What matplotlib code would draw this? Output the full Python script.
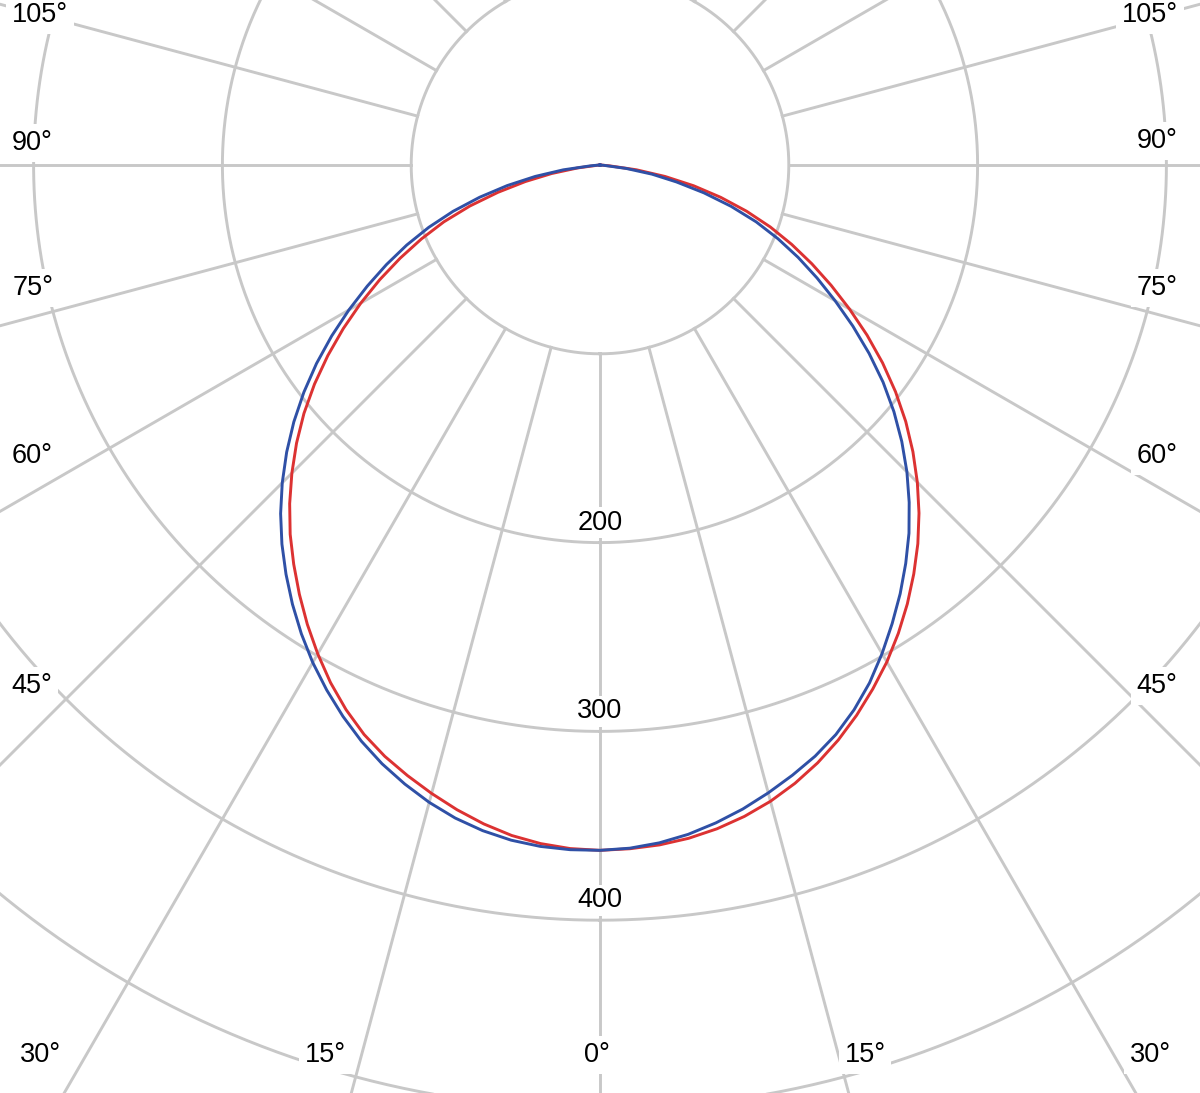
import numpy as np
import matplotlib
matplotlib.use("Agg")
import matplotlib.pyplot as plt

plt.rcParams['font.family'] = ['Liberation Sans', 'DejaVu Sans']

# angulos gamma (grados desde la vertical hacia abajo), cada 2.5
gamma = [0, 2.5, 5, 7.5, 10, 12.5, 15, 17.5, 20, 22.5, 25, 27.5, 30, 32.5, 35, 37.5,
         40, 42.5, 45, 47.5, 50, 52.5, 55, 57.5, 60, 62.5, 65, 67.5, 70, 72.5, 75,
         77.5, 80, 82.5, 85, 87.5, 90]

# intensidades en cd, leidas del grafico
# rojo: C0 (derecha) / C180 (izquierda)
red_c0 = [363, 362.5, 361.5, 359.7, 357, 353.4, 348.9, 343.4, 337, 329.7, 321.6, 312.9,
          303.9, 294.1, 283.8, 273, 261.9, 250.1, 237.7, 224.8, 211.4, 197.3, 182.7, 167.7,
          152.6, 138, 123.8, 109.9, 96, 81.4, 66.2, 50.8, 35, 19.5, 5, 0.5, 0]
red_c180 = [363, 362.4, 360.8, 358.2, 354.4, 349.8, 344.6, 339.1, 333.3, 326.5, 318.3, 309.1,
            299, 288.5, 277.6, 266.5, 255.3, 243.3, 230.8, 218, 204.7, 190.6, 176, 161.2,
            146.3, 131.5, 116.8, 102.4, 88, 72.3, 56, 40.5, 26, 12, 1, 0, 0]
# azul: C90 (derecha) / C270 (izquierda)
blue_c90 = [363, 362.2, 360.4, 357.6, 353.8, 349.4, 344.3, 338.9, 333.2, 326.5, 318.4, 309.2,
            298.8, 288, 277.2, 266, 254.6, 242.4, 229.9, 216.8, 203.2, 189, 174, 158.8,
            143.8, 129.6, 115.8, 102, 88, 72.8, 57, 41.5, 28, 14, 2, 0, 0]
blue_c270 = [363, 363, 362.3, 360.7, 358, 354.3, 349.5, 343.8, 337.5, 330.3, 322.2, 313.5,
             304.3, 294.4, 284, 273.2, 262.1, 250.4, 238, 225.1, 211.7, 197.7, 183.3, 168.5,
             153.6, 139, 124.8, 110.8, 96.5, 81.6, 66, 50.3, 34.8, 19.6, 5, 0.5, 0]

ring_values = [100, 200, 300, 400, 500, 600]
ring_labels = ["200", "300", "400"]
spoke_step = 15

# etiquetas de angulo: texto y posicion en pixeles (x, y desde arriba)
angle_labels = ["105°", "90°", "75°", "60°", "45°", "30°", "15°", "0°",
                "15°", "30°", "45°", "60°", "75°", "90°", "105°"]
label_px = [(40, 12), (32, 140), (33, 285), (32, 453), (32, 683), (40, 1052),
            (325, 1052), (597, 1052), (865, 1052), (1150, 1052), (1157, 683),
            (1157, 453), (1157, 285), (1157, 138), (1150, 12)]

W, H = 1200, 1093
cx, cy = 600, 165          # centro en pixeles
px_per_cd = 1.888
rmax = 600

fig = plt.figure(figsize=(W / 100, H / 100), dpi=100)
R = rmax * px_per_cd
ax = fig.add_axes([(cx - R) / W, (H - cy - R) / H, 2 * R / W, 2 * R / H], projection='polar')
ax.set_theta_zero_location('S')
ax.set_theta_direction(1)
ax.set_ylim(0, rmax)
ax.grid(False)
ax.set_xticks([])
ax.set_yticks([])
ax.spines['polar'].set_visible(False)
ax.patch.set_visible(False)

grid_col = "#c8c8c8"
t = np.linspace(0, 2 * np.pi, 721)
for r in ring_values:
    ax.plot(t, np.full_like(t, r), color=grid_col, lw=2.1, zorder=1)
for a in range(0, 360, spoke_step):
    ax.plot([np.radians(a)] * 2, [100, rmax], color=grid_col, lw=2.1, zorder=1)

# etiquetas de los anillos
for lab in ring_labels:
    ax.annotate(lab, xy=(0, float(lab)), xytext=(0, 5), textcoords='offset points',
                ha='center', va='bottom', fontsize=19.5, zorder=3,
                bbox=dict(facecolor='white', edgecolor='none', pad=2))

# curvas: mitad derecha = +gamma, mitad izquierda = -gamma
g = np.radians(gamma)
th = np.concatenate([-g[::-1], g[1:]])
red_r = np.concatenate([red_c180[::-1], red_c0[1:]])
blue_r = np.concatenate([blue_c270[::-1], blue_c90[1:]])
ax.plot(th, red_r, color="#dc3232", lw=2.1, zorder=4, solid_joinstyle='round')
ax.plot(th, blue_r, color="#2f50a6", lw=2.1, zorder=5, solid_joinstyle='round')

for lab, (x, y) in zip(angle_labels, label_px):
    fig.text(x / W, 1 - (y + 10) / H, lab, ha='center', va='baseline', fontsize=19.5,
             zorder=6, bbox=dict(facecolor='white', edgecolor='none', pad=4))

fig.savefig("out.png", dpi=100)
